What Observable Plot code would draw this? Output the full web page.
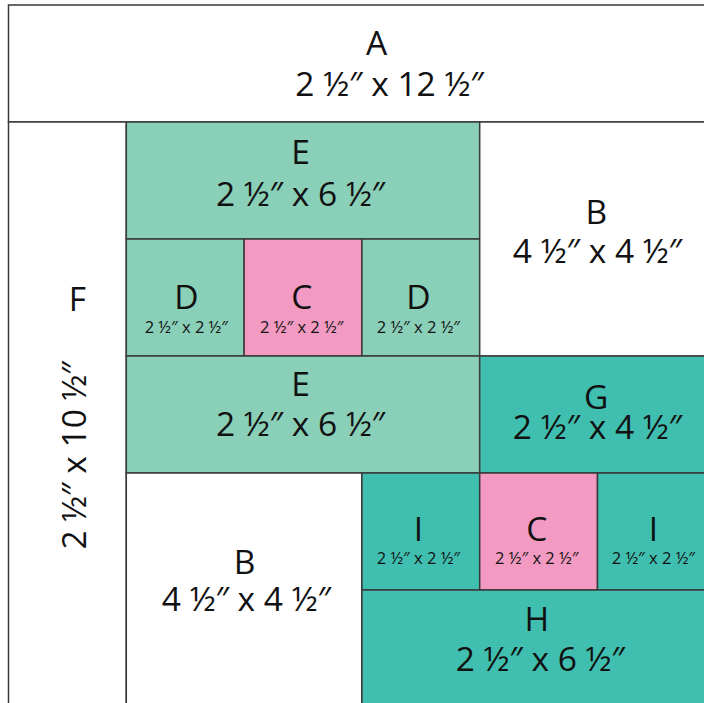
<!DOCTYPE html>
<html>
<head>
<meta charset="utf-8">
<script src="https://cdn.jsdelivr.net/npm/d3@7"></script>
<script src="https://cdn.jsdelivr.net/npm/@observablehq/plot@0.6"></script>
<style>
  html, body { margin: 0; padding: 0; background: #fff; overflow: hidden; }
  #chart svg { display: block; }
</style>
</head>
<body>
<div id="chart"></div>
<script>
// Pieces of the quilt block (finished-size units, origin top-left)
const pieceNames = ["A", "F", "E", "D", "C", "D", "E", "B", "G", "B", "I", "C", "I", "H"];
const pieceX1 = [0, 0, 2, 2, 4, 6, 2, 8, 8, 2, 6, 8, 10, 6];
const pieceX2 = [12, 2, 8, 4, 6, 8, 8, 12, 12, 6, 8, 10, 12, 12];
const pieceY1 = [0, 2, 2, 4, 4, 4, 6, 2, 6, 8, 8, 8, 8, 10];
const pieceY2 = [2, 12, 4, 6, 6, 6, 8, 6, 8, 12, 10, 10, 10, 12];
const pieceFabric = ["white", "white", "light", "light", "pink", "light", "light", "white", "teal", "white", "teal", "pink", "teal", "teal"];

const fabricNames = ["white", "light", "pink", "teal"];
const fabricColors = ["#ffffff", "#8acfb8", "#f29ac1", "#40bfb0"];

// Labels
const labelText = ["A", "2 ½″ x 12 ½″", "E", "2 ½″ x 6 ½″", "B", "4 ½″ x 4 ½″", "F", "2 ½″ x 10 ½″",
  "D", "2 ½″ x 2 ½″", "C", "2 ½″ x 2 ½″", "D", "2 ½″ x 2 ½″",
  "E", "2 ½″ x 6 ½″", "G", "2 ½″ x 4 ½″",
  "I", "2 ½″ x 2 ½″", "C", "2 ½″ x 2 ½″", "I", "2 ½″ x 2 ½″",
  "B", "4 ½″ x 4 ½″", "H", "2 ½″ x 6 ½″"];
const labelX = [6.24, 6.46, 4.95, 4.95, 9.97, 9.99, 1.16, 1.13,
  3.01, 3.01, 4.97, 4.97, 6.95, 6.95,
  4.95, 4.95, 9.97, 9.99,
  6.95, 6.95, 8.96, 8.96, 10.94, 10.94,
  4.0, 4.03, 8.96, 9.02];
const labelY = [0.67, 1.37, 2.53, 3.25, 3.56, 4.22, 5.04, 7.69,
  5.01, 5.5, 5.01, 5.5, 5.01, 5.5,
  6.5, 7.18, 6.72, 7.23,
  8.97, 9.45, 8.97, 9.45, 8.97, 9.45,
  9.54, 10.17, 10.51, 11.2];
const labelSize = ["big", "big", "big", "big", "big", "big", "big", "big",
  "big", "small", "big", "small", "big", "small",
  "big", "big", "big", "big",
  "big", "small", "big", "small", "big", "small",
  "big", "big", "big", "big"];
const labelRotate = [0, 0, 0, 0, 0, 0, 0, -90,
  0, 0, 0, 0, 0, 0, 0, 0, 0, 0, 0, 0, 0, 0, 0, 0, 0, 0, 0, 0];

const pieces = pieceNames.map((n, i) => ({
  name: n, x1: pieceX1[i], x2: pieceX2[i], y1: pieceY1[i], y2: pieceY2[i], fabric: pieceFabric[i]
}));
const labels = labelText.map((t, i) => ({
  text: t, x: labelX[i], y: labelY[i], size: labelSize[i] === "big" ? 33.5 : 16.5, rotate: labelRotate[i]
}));

const chart = Plot.plot({
  width: 704,
  height: 703,
  margin: 0,
  style: { fontFamily: "'Open Sans', sans-serif", background: "#fff", overflow: "visible" },
  x: { domain: [0, 12], range: [8.5, 715.3], axis: null },
  y: { domain: [0, 12], range: [5, 707], axis: null },
  color: { domain: fabricNames, range: fabricColors },
  marks: [
    Plot.rect(pieces, { x1: "x1", x2: "x2", y1: "y1", y2: "y2", fill: "fabric", stroke: "#3a3a3a", strokeWidth: 1.5 }),
    Plot.text(labels, { x: "x", y: "y", text: "text", fontSize: "size", rotate: "rotate", fill: "#111", textAnchor: "middle" })
  ]
});
document.getElementById("chart").appendChild(chart);
</script>
</body>
</html>
